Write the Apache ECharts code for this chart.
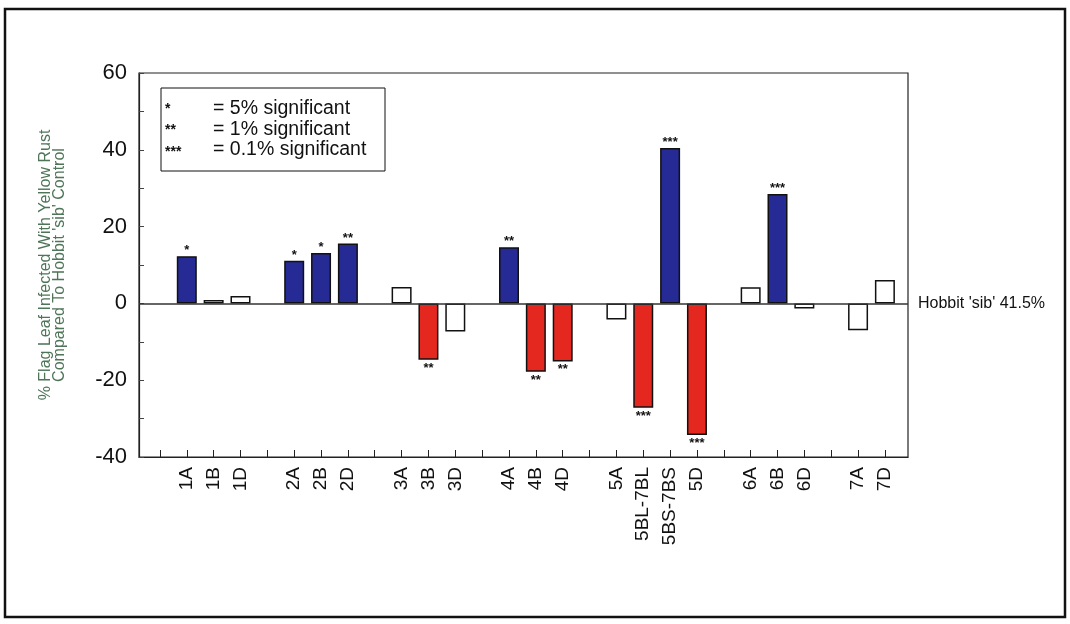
<!DOCTYPE html>
<html>
<head>
<meta charset="utf-8">
<title>Yellow Rust – chromosome substitution lines</title>
<script src="https://cdn.jsdelivr.net/npm/echarts@6/dist/echarts.min.js"></script>
<style>
  html, body { margin: 0; padding: 0; background: #fff; }
  #chart { width: 1070px; height: 624px; }
</style>
</head>
<body>
<div id="chart"></div>
<script>
// Substitution lines; the leading digit is the homoeologous group
const categories = ['1A', '1B', '1D', '2A', '2B', '2D', '3A', '3B', '3D', '4A', '4B', '4D',
  '5A', '5BL-7BL', '5BS-7BS', '5D', '6A', '6B', '6D', '7A', '7D'];
// Difference in % flag leaf infected relative to the Hobbit 'sib' control
const values = [12.3, 0.9, 1.9, 11.1, 13.1, 15.6, 4.3, -14.7, -7.3, 14.6, -17.8, -15.1,
  -4.2, -27.2, 40.5, -34.3, 4.2, 28.5, -1.3, -7.0, 6.1];
// Significance of each difference
const significance = ['*', '', '', '*', '*', '**', '', '**', '', '**', '**', '**',
  '', '***', '***', '***', '', '***', '', '', ''];
const yTicks = [-40, -20, 0, 20, 40, 60];
const legendRows = [['*', '= 5% significant'], ['**', '= 1% significant'], ['***', '= 0.1% significant']];
const controlLabel = "Hobbit 'sib' 41.5%";
const yName = "% Flag Leaf Infected With Yellow Rust\nCompared To Hobbit 'sib' Control";

const FONT = "'Liberation Sans', Arial, sans-serif";
const BLUE = '#262a94';
const RED = '#e5281f';

// one empty slot before each group, so slot = index + group number
const slots = categories.map((c, i) => i + parseInt(c, 10));
const lastSlot = Math.max(...slots);
const allSlots = Array.from({ length: lastSlot + 1 }, (_, k) => k);
const nameBySlot = {};
slots.forEach((s, i) => { nameBySlot[s] = categories[i]; });

const barData = values.map((v, i) => {
  const sig = significance[i];
  const fill = sig ? (v > 0 ? BLUE : RED) : '#ffffff';
  return {
    value: [slots[i], v],
    itemStyle: { color: fill, borderColor: '#111', borderWidth: 1.5 },
    label: {
      show: !!sig,
      formatter: sig,
      position: v > 0 ? 'top' : 'bottom',
      distance: v > 0 ? -1 : 2,
      fontFamily: FONT,
      fontWeight: 'bold',
      fontSize: 13,
      color: '#111'
    }
  };
});

const chart = echarts.init(document.getElementById('chart'), null, { renderer: 'canvas' });

// significance key in the upper-left of the plot
const legendGraphics = [{
  type: 'rect',
  shape: { x: 161, y: 88, width: 224, height: 83 },
  style: { fill: '#fff', stroke: '#111', lineWidth: 1 }
}];
legendRows.forEach((row, i) => {
  legendGraphics.push({
    type: 'text', x: 165, y: 109 + i * 21.5,
    style: { text: row[0], font: 'bold 14px ' + FONT, fill: '#111', verticalAlign: 'middle' }
  });
  legendGraphics.push({
    type: 'text', x: 213, y: 109 + i * 20.5,
    style: { text: row[1], font: '19.5px ' + FONT, fill: '#111', verticalAlign: 'middle' }
  });
});

chart.setOption({
  animation: false,
  backgroundColor: '#fff',
  grid: { left: 139, right: 162, top: 73, bottom: 167, show: true, borderColor: '#222', borderWidth: 1.2, backgroundColor: 'transparent' },
  xAxis: {
    type: 'value',
    min: -0.78,
    max: lastSlot + 0.86,
    splitLine: { show: false },
    axisLine: { show: true, onZero: false, lineStyle: { color: '#222', width: 1.2 } },
    axisTick: { show: true, inside: true, length: 7, customValues: allSlots, lineStyle: { color: '#222' } },
    axisLabel: {
      customValues: slots,
      rotate: 90,
      margin: 10,
      fontFamily: FONT,
      fontSize: 19,
      color: '#111',
      formatter: v => nameBySlot[Math.round(v)] || ''
    }
  },
  yAxis: {
    type: 'value',
    min: -40,
    max: 60,
    interval: 10,
    splitLine: { show: false },
    axisLine: { show: true, onZero: false, lineStyle: { color: '#222', width: 1.2 } },
    axisTick: { show: true, inside: true, length: 5, lineStyle: { color: '#444' } },
    axisLabel: {
      margin: 12,
      fontFamily: FONT,
      fontSize: 22,
      color: '#111',
      formatter: v => (yTicks.includes(v) ? String(v) : '')
    },
    name: yName,
    nameLocation: 'middle',
    nameGap: 72,
    nameTextStyle: { fontFamily: FONT, fontSize: 16, lineHeight: 14.5, color: '#4e7558', align: 'center' }
  },
  graphic: [
    {
      type: 'rect',
      shape: { x: 5, y: 9, width: 1060, height: 608 },
      style: { fill: 'none', stroke: '#111', lineWidth: 2.5 },
      z: 10
    },
    ...legendGraphics
  ],
  series: [{
    type: 'bar',
    barWidth: 20,
    data: barData,
    markLine: {
      silent: true,
      symbol: 'none',
      lineStyle: { color: '#333', width: 1.5, type: 'solid' },
      label: {
        show: true,
        position: 'end',
        distance: 10,
        formatter: controlLabel,
        fontFamily: FONT,
        fontSize: 16,
        color: '#111'
      },
      data: [{ yAxis: 0 }]
    }
  }]
});
</script>
</body>
</html>
